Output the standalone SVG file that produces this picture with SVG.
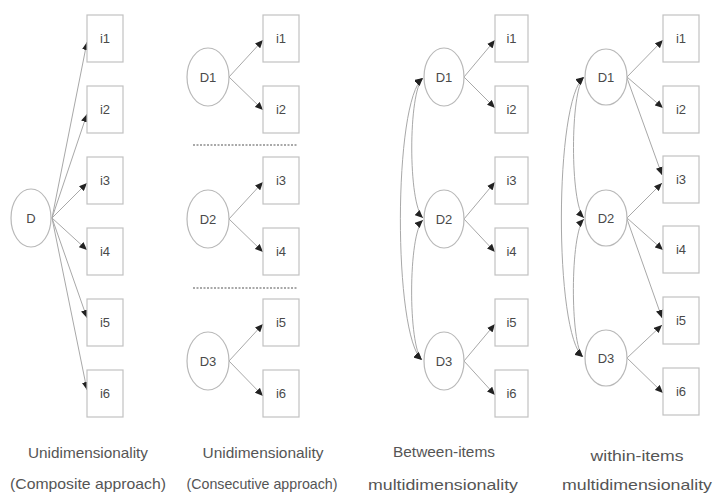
<svg xmlns="http://www.w3.org/2000/svg" width="713" height="500" viewBox="0 0 713 500">
  <style>
    .box { fill: #fff; stroke: #c2c2c2; stroke-width: 1.2; }
    .lat { fill: #fff; stroke: #b8b8b8; stroke-width: 1.2; }
    .lbl { font-family: "Liberation Sans", Arial, sans-serif; font-size: 13px; fill: #4a4a4a; text-anchor: middle; dominant-baseline: central; }
    .cap { font-family: "Liberation Sans", Arial, sans-serif; font-size: 15px; fill: #555; text-anchor: middle; }
    .edge { fill: none; stroke: #a8a8a8; stroke-width: 1; marker-end: url(#arr); }
    .cov { fill: none; stroke: #a8a8a8; stroke-width: 1; marker-start: url(#arr); marker-end: url(#arr); }
    .sep { stroke: #555; stroke-width: 1.2; stroke-dasharray: 2 1.5; }
  </style>
  <defs>
    <marker id="arr" markerUnits="userSpaceOnUse" markerWidth="9" markerHeight="7" refX="8" refY="3.5" orient="auto-start-reverse">
      <path d="M0,0 L8,3.5 L0,7 z" fill="#222"/>
    </marker>
  </defs>
  <rect width="713" height="500" fill="#fff"/>

  <!-- connectors -->
  <g id="connectors">
    <!-- composite approach -->
    <path class="edge" d="M52,218 L87,42"/>
    <path class="edge" d="M52,218 L87,114"/>
    <path class="edge" d="M52,218 L87,183"/>
    <path class="edge" d="M52,218 L87,250"/>
    <path class="edge" d="M52,218 L87,318"/>
    <path class="edge" d="M52,218 L87,390"/>
    <!-- consecutive approach -->
    <path class="edge" d="M229,77 L263,40"/>
    <path class="edge" d="M229,77 L263,110"/>
    <path class="edge" d="M229,219 L263,182"/>
    <path class="edge" d="M229,219 L263,252"/>
    <path class="edge" d="M229,361 L263,324"/>
    <path class="edge" d="M229,361 L263,396"/>
    <line class="sep" x1="193" y1="145" x2="298" y2="145"/>
    <line class="sep" x1="193" y1="288" x2="298" y2="288"/>
    <!-- between-items -->
    <path class="edge" d="M464,77 L495,40"/>
    <path class="edge" d="M464,77 L495,108"/>
    <path class="edge" d="M464,219 L495,182"/>
    <path class="edge" d="M464,219 L495,252"/>
    <path class="edge" d="M464,361 L495,324"/>
    <path class="edge" d="M464,361 L495,395"/>
    <path class="cov" d="M423,78 C408,92 408,204 423,218"/>
    <path class="cov" d="M423,220 C408,234 408,346 422,360"/>
    <path class="cov" d="M423,78 C393,100 393,336 422,360"/>
    <!-- within-items -->
    <path class="edge" d="M627,77 L663,40"/>
    <path class="edge" d="M627,77 L663,108"/>
    <path class="edge" d="M627,78 L662,175"/>
    <path class="edge" d="M627,218 L662,183"/>
    <path class="edge" d="M627,218 L663,250"/>
    <path class="edge" d="M627,219 L662,318"/>
    <path class="edge" d="M627,358 L662,325"/>
    <path class="edge" d="M627,358 L663,393"/>
    <path class="cov" d="M584,77 C570,91 570,204 584,218"/>
    <path class="cov" d="M584,219 C570,233 570,344 583,357"/>
    <path class="cov" d="M584,77 C554,100 554,334 583,357"/>
  </g>

  <!-- composite approach -->
  <g id="c1-D"><ellipse class="lat" cx="31" cy="218" rx="20" ry="29"/><text class="lbl" x="31" y="218">D</text></g>
  <g id="c1-i1"><rect class="box" x="87" y="15" width="36" height="47"/><text class="lbl" x="105" y="38.5">i1</text></g>
  <g id="c1-i2"><rect class="box" x="87" y="86" width="36" height="47"/><text class="lbl" x="105" y="109.5">i2</text></g>
  <g id="c1-i3"><rect class="box" x="87" y="157" width="36" height="47"/><text class="lbl" x="105" y="180.5">i3</text></g>
  <g id="c1-i4"><rect class="box" x="87" y="228" width="36" height="47"/><text class="lbl" x="105" y="251.5">i4</text></g>
  <g id="c1-i5"><rect class="box" x="87" y="299" width="36" height="47"/><text class="lbl" x="105" y="322.5">i5</text></g>
  <g id="c1-i6"><rect class="box" x="87" y="370" width="36" height="47"/><text class="lbl" x="105" y="393.5">i6</text></g>
  <text class="cap" x="88" y="458" textLength="120" lengthAdjust="spacingAndGlyphs">Unidimensionality</text>
  <text class="cap" x="88" y="489" textLength="156" lengthAdjust="spacingAndGlyphs">(Composite approach)</text>

  <!-- consecutive approach -->
  <g id="c2-D1"><ellipse class="lat" cx="208" cy="77" rx="21" ry="29"/><text class="lbl" x="208" y="77">D1</text></g>
  <g id="c2-D2"><ellipse class="lat" cx="208" cy="219" rx="21" ry="29"/><text class="lbl" x="208" y="219">D2</text></g>
  <g id="c2-D3"><ellipse class="lat" cx="208" cy="361" rx="21" ry="29"/><text class="lbl" x="208" y="361">D3</text></g>
  <g id="c2-i1"><rect class="box" x="263" y="15" width="36" height="47"/><text class="lbl" x="281" y="38.5">i1</text></g>
  <g id="c2-i2"><rect class="box" x="263" y="86" width="36" height="47"/><text class="lbl" x="281" y="109.5">i2</text></g>
  <g id="c2-i3"><rect class="box" x="263" y="157" width="36" height="47"/><text class="lbl" x="281" y="180.5">i3</text></g>
  <g id="c2-i4"><rect class="box" x="263" y="228" width="36" height="47"/><text class="lbl" x="281" y="251.5">i4</text></g>
  <g id="c2-i5"><rect class="box" x="263" y="299" width="36" height="47"/><text class="lbl" x="281" y="322.5">i5</text></g>
  <g id="c2-i6"><rect class="box" x="263" y="370" width="36" height="47"/><text class="lbl" x="281" y="393.5">i6</text></g>
  <text class="cap" x="263" y="458" textLength="121" lengthAdjust="spacingAndGlyphs">Unidimensionality</text>
  <text class="cap" x="262" y="489" textLength="151" lengthAdjust="spacingAndGlyphs">(Consecutive approach)</text>

  <!-- between-items multidimensionality -->
  <g id="c3-D1"><ellipse class="lat" cx="444" cy="77" rx="20" ry="29"/><text class="lbl" x="444" y="77">D1</text></g>
  <g id="c3-D2"><ellipse class="lat" cx="444" cy="219" rx="20" ry="29"/><text class="lbl" x="444" y="219">D2</text></g>
  <g id="c3-D3"><ellipse class="lat" cx="444" cy="361" rx="20" ry="29"/><text class="lbl" x="444" y="361">D3</text></g>
  <g id="c3-i1"><rect class="box" x="495" y="15" width="33" height="47"/><text class="lbl" x="511.5" y="38.5">i1</text></g>
  <g id="c3-i2"><rect class="box" x="495" y="86" width="33" height="47"/><text class="lbl" x="511.5" y="109.5">i2</text></g>
  <g id="c3-i3"><rect class="box" x="495" y="157" width="33" height="47"/><text class="lbl" x="511.5" y="180.5">i3</text></g>
  <g id="c3-i4"><rect class="box" x="495" y="228" width="33" height="47"/><text class="lbl" x="511.5" y="251.5">i4</text></g>
  <g id="c3-i5"><rect class="box" x="495" y="299" width="33" height="47"/><text class="lbl" x="511.5" y="322.5">i5</text></g>
  <g id="c3-i6"><rect class="box" x="495" y="370" width="33" height="47"/><text class="lbl" x="511.5" y="393.5">i6</text></g>
  <text class="cap" x="444" y="457" textLength="102" lengthAdjust="spacingAndGlyphs">Between-items</text>
  <text class="cap" x="443" y="490" textLength="150" lengthAdjust="spacingAndGlyphs">multidimensionality</text>

  <!-- within-items multidimensionality -->
  <g id="c4-D1"><ellipse class="lat" cx="606" cy="77" rx="21" ry="28"/><text class="lbl" x="606" y="77">D1</text></g>
  <g id="c4-D2"><ellipse class="lat" cx="606" cy="218" rx="21" ry="28"/><text class="lbl" x="606" y="218">D2</text></g>
  <g id="c4-D3"><ellipse class="lat" cx="606" cy="358" rx="21" ry="28"/><text class="lbl" x="606" y="358">D3</text></g>
  <g id="c4-i1"><rect class="box" x="663" y="15" width="36" height="47"/><text class="lbl" x="681" y="38.5">i1</text></g>
  <g id="c4-i2"><rect class="box" x="663" y="86" width="36" height="47"/><text class="lbl" x="681" y="109.5">i2</text></g>
  <g id="c4-i3"><rect class="box" x="663" y="156" width="36" height="47"/><text class="lbl" x="681" y="179.5">i3</text></g>
  <g id="c4-i4"><rect class="box" x="663" y="226" width="36" height="47"/><text class="lbl" x="681" y="249.5">i4</text></g>
  <g id="c4-i5"><rect class="box" x="663" y="297" width="36" height="47"/><text class="lbl" x="681" y="320.5">i5</text></g>
  <g id="c4-i6"><rect class="box" x="663" y="368" width="36" height="47"/><text class="lbl" x="681" y="391.5">i6</text></g>
  <text class="cap" x="637" y="461" textLength="93" lengthAdjust="spacingAndGlyphs">within-items</text>
  <text class="cap" x="637" y="490" textLength="150" lengthAdjust="spacingAndGlyphs">multidimensionality</text>
</svg>
